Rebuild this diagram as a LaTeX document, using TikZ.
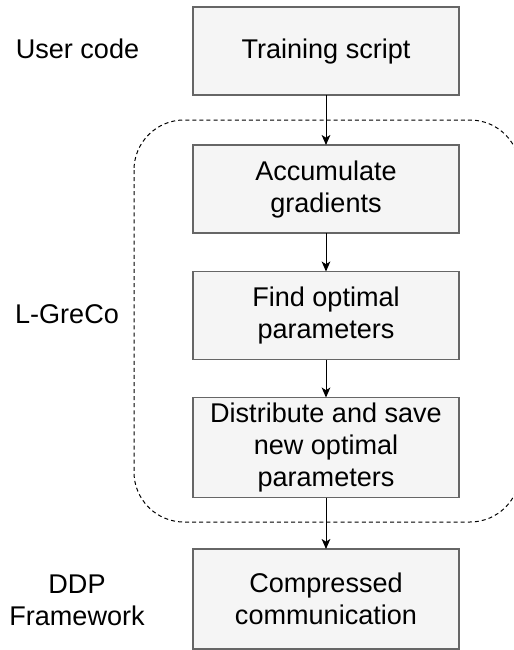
\documentclass[tikz,border=0pt]{standalone}
\usepackage{fontspec}
\setmainfont{Liberation Sans}
\usetikzlibrary{arrows.meta}
\tikzset{
    stage/.style={draw=black!60, line width=1pt, fill=black!4, minimum width=199.5pt, minimum height=66pt, align=center, inner sep=0pt, outer sep=0pt},
    tall/.style={minimum height=75pt},
    side/.style={align=center},
    flow/.style={-{Stealth[length=7.5pt,width=6.5pt,inset=2pt]}, line width=0.75pt}
}
\begin{document}
\begin{tikzpicture}[x=0.75pt, y=-0.75pt, font=\fontsize{20.3}{24}\selectfont]
        \useasboundingbox (0,0) rectangle (514,650);
        \clip (0,0) rectangle (514,650);
        % the L-GreCo region
        \draw[dash pattern=on 3pt off 2.3pt, line width=0.75pt, rounded corners=37.5pt] (134,120) rectangle (520,522);
        \node[stage] (train) at (326,51) {Training script};
        \node[stage] (accum) at (326,189) {Accumulate\\gradients};
        \node[stage] (find) at (326,315.5) {Find optimal\\parameters};
        \node[stage, tall] (distrib) at (326,447.5) {Distribute and save\\new optimal\\parameters};
        \node[stage, tall] (comm) at (326,599) {Compressed\\communication};
        \node[side] (user) at (77.5,49) {User code};
        \node[side] (lgreco) at (67,314) {L-GreCo};
        \node[side] (ddp) at (77,600) {DDP\\Framework};
        \draw[flow] (train) -- (accum);
        \draw[flow] (accum) -- (find);
        \draw[flow] (find) -- (distrib);
        \draw[flow] (distrib) -- (comm);
    \end{tikzpicture}
\end{document}
